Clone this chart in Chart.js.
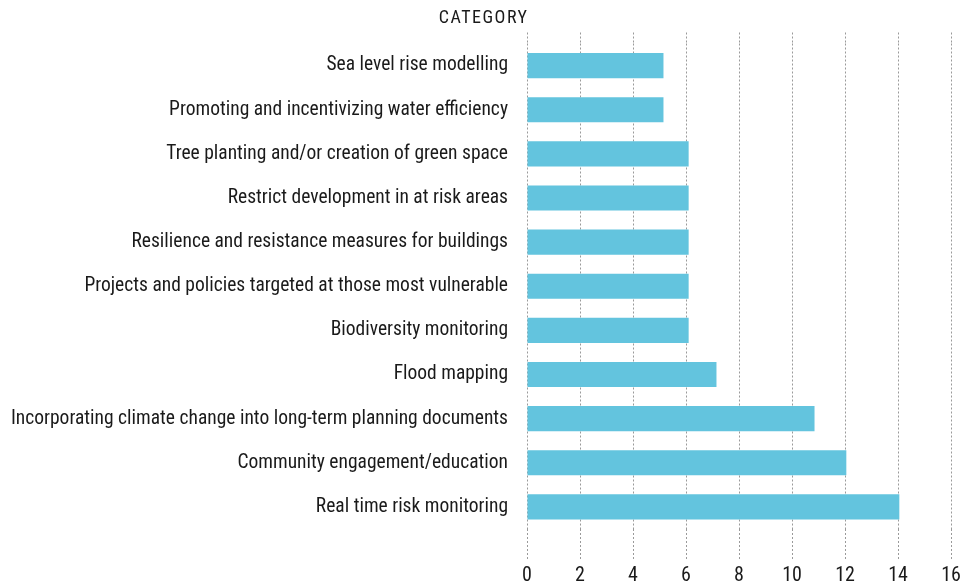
<!DOCTYPE html>
<html>
<head>
<meta charset="utf-8">
<script src="https://cdn.jsdelivr.net/npm/chart.js@4"></script>
<style>
  html, body { margin: 0; padding: 0; background: #fff; }
  #wrap { width: 976px; height: 588px; position: relative; }
</style>
</head>
<body>
<div id="wrap"><canvas id="chart"></canvas></div>
<script>
// Data
const categories = [
  "Sea level rise modelling",
  "Promoting and incentivizing water efficiency",
  "Tree planting and/or creation of green space",
  "Restrict development in at risk areas",
  "Resilience and resistance measures for buildings",
  "Projects and policies targeted at those most vulnerable",
  "Biodiversity monitoring",
  "Flood mapping",
  "Incorporating climate change into long-term planning documents",
  "Community engagement/education",
  "Real time risk monitoring"
];
const counts = [5.15, 5.15, 6.1, 6.1, 6.1, 6.1, 6.1, 7.15, 10.85, 12.05, 14.05];
const xTicks = [0, 2, 4, 6, 8, 10, 12, 14, 16];

const FONT = "'Roboto Condensed', Roboto, sans-serif";
const gridStyle = {
  color: "#9a9a9a",
  lineWidth: 1,
  tickBorderDash: [2, 2]
};

// "CATEGORY" heading above the label column
const categoryTitle = {
  id: "categoryTitle",
  afterDraw(chart) {
    const y = chart.scales.y;
    const c = chart.ctx;
    c.save();
    c.font = "18px " + FONT;
    c.fillStyle = "#1a1a1a";
    c.textAlign = "right";
    c.textBaseline = "middle";
    c.letterSpacing = "1.5px";
    c.fillText("CATEGORY", y.right + 1.5, 18.5);
    c.restore();
  }
};

const ctx = document.getElementById("chart").getContext("2d");

new Chart(ctx, {
  type: "bar",
  data: {
    labels: categories,
    datasets: [{
      data: counts,
      backgroundColor: "#63c4de",
      borderWidth: 0,
      barPercentage: 0.57,
      categoryPercentage: 1
    }]
  },
  options: {
    indexAxis: "y",
    responsive: true,
    maintainAspectRatio: false,
    animation: false,
    layout: { padding: { top: 32, left: 0, right: 25, bottom: 0 } },
    plugins: {
      legend: { display: false },
      tooltip: { enabled: false }
    },
    scales: {
      x: {
        position: "bottom",
        min: 0,
        max: 16,
        afterBuildTicks: s => { s.ticks = xTicks.map(v => ({ value: v })); },
        border: { display: false, dash: [2, 2] },
        grid: Object.assign({ drawTicks: true, tickLength: 32 }, gridStyle),
        ticks: { color: "#1a1a1a", font: { family: FONT, size: 20 }, padding: 3 },
        afterFit: s => { s.height = 59; }
      },
      x2: {
        position: "top",
        min: 0,
        max: 16,
        afterBuildTicks: s => { s.ticks = xTicks.map(v => ({ value: v })); },
        border: { display: false, dash: [2, 2] },
        grid: Object.assign({ drawOnChartArea: false, drawTicks: true, tickLength: 11 }, gridStyle),
        ticks: { display: false },
        afterFit: s => { s.height = 11.5; }
      },
      y: {
        border: { display: false },
        grid: { display: false, drawTicks: false },
        ticks: { color: "#1a1a1a", font: { family: FONT, size: 19.5 }, padding: 19 },
        afterFit: s => { s.width = 527; }
      }
    }
  },
  plugins: [categoryTitle]
});
</script>
</body>
</html>
